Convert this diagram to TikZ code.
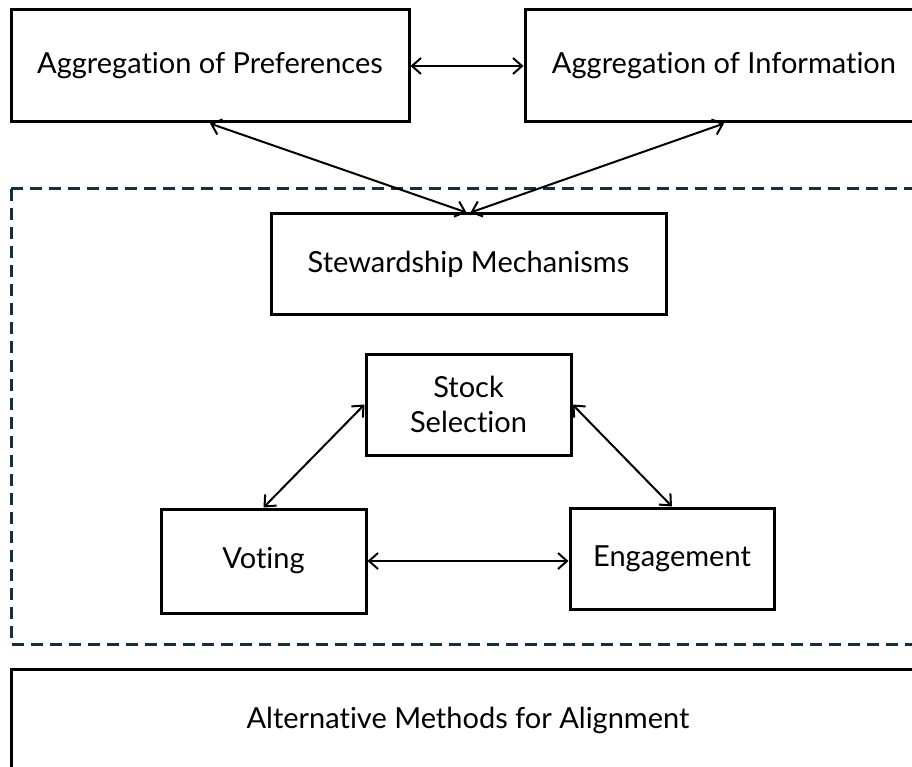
\documentclass[tikz,border=0pt]{standalone}
\usepackage{fontspec}
\setmainfont{Lato}[Ligatures={NoCommon,NoRequired,NoContextual}]
\usetikzlibrary{arrows.meta}
\definecolor{stwNavy}{HTML}{12303F}
\tikzset{
  stw box/.style={draw=black, line width=3pt, inner sep=0pt, align=center, font=\fontsize{29}{35}\selectfont},
  stw link/.style={draw=black, line width=2pt, {Straight Barb[length=9pt,width=16pt]}-{Straight Barb[length=9pt,width=16pt]}},
  stw frame/.style={draw=stwNavy, line width=3pt, dash pattern=on 12pt off 7pt},
}

\begin{document}
\begin{tikzpicture}[x=1pt,y=-1pt]
  \useasboundingbox (0,0) rectangle (912,767);
  \clip (0,0) rectangle (912,767);
  \draw[stw frame] (11,189) rectangle (930,644);
  % aggregation
  \node[stw box, minimum width=398pt, minimum height=112pt] (pref) at (210,66) {Aggregation of Preferences};
  \node[stw box, minimum width=398pt, minimum height=112pt] (info) at (724,66) {Aggregation of Information};
  % mechanisms
  \node[stw box, minimum width=395pt, minimum height=100pt] (steward) at (468.5,264) {Stewardship Mechanisms};
  \node[stw box, minimum width=205pt, minimum height=101pt] (stock) at (468.5,404.5) {Stock\\Selection};
  \node[stw box, minimum width=205pt, minimum height=104pt] (voting) at (263.5,561) {Voting};
  \node[stw box, minimum width=204pt, minimum height=101pt] (engage) at (672,558.5) {Engagement};
  \node[stw box, minimum width=914pt, minimum height=102pt] (altern) at (468,720) {Alternative Methods for Alignment};
  \draw[stw link] (pref.east) -- (info.west);
  \draw[stw link] (pref.south) -- ([xshift=-2pt]steward.north);
  \draw[stw link] (info.south) -- ([xshift=2pt]steward.north);
  \draw[stw link] (stock.west) -- (voting.north);
  \draw[stw link] (stock.east) -- (engage.north);
  \draw[stw link] (voting.east) -- (voting.east -| engage.west);
\end{tikzpicture}
\end{document}
